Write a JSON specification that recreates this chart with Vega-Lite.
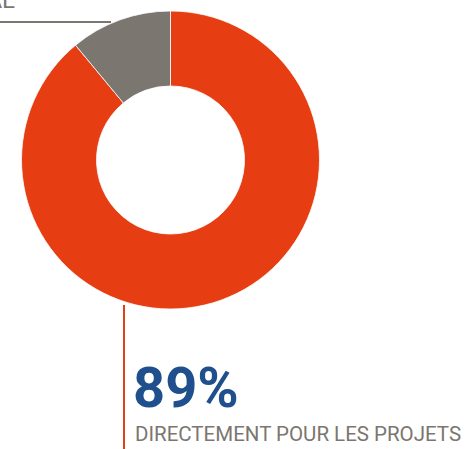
{
  "$schema": "https://vega.github.io/schema/vega-lite/v6.json",
  "width": 470,
  "height": 449,
  "padding": 0,
  "autosize": {"type": "none"},
  "background": "white",
  "config": {"view": {"stroke": null}},
  "layer": [
    {
      "data": {"values": [
        {"cat": "Directement pour les projets", "value": 89, "ord": 1},
        {"cat": "Autre", "value": 11, "ord": 2}
      ]},
      "mark": {"type": "arc", "radius": 149, "radius2": 74, "stroke": "white", "strokeWidth": 0.8},
      "encoding": {
        "theta": {"field": "value", "type": "quantitative", "stack": true},
        "order": {"field": "ord", "type": "quantitative"},
        "color": {"field": "cat", "type": "nominal", "scale": {"domain": ["Directement pour les projets", "Autre"], "range": ["#e63e12", "#7b766f"]}, "legend": null},
        "x": {"datum": 170.5, "type": "quantitative", "scale": {"domain": [0, 470], "nice": false, "zero": false}, "axis": null},
        "y": {"datum": 160, "type": "quantitative", "scale": {"domain": [0, 449], "nice": false, "zero": false, "reverse": true}, "axis": null}
      }
    },
    {
      "data": {"values": [{"k": 1}]},
      "mark": {"type": "rule", "color": "#7b766f", "strokeWidth": 2},
      "encoding": {
        "x": {"datum": 0, "type": "quantitative"},
        "x2": {"datum": 111},
        "y": {"datum": 22, "type": "quantitative"}
      }
    },
    {
      "data": {"values": [{"k": 1}]},
      "mark": {"type": "rule", "color": "#e63e12", "strokeWidth": 2},
      "encoding": {
        "x": {"datum": 124, "type": "quantitative"},
        "y": {"datum": 305, "type": "quantitative"},
        "y2": {"datum": 449}
      }
    },
    {
      "data": {"values": [{"label": "INTERNATIONAL"}]},
      "mark": {"type": "text", "align": "right", "baseline": "alphabetic", "font": "Roboto", "fontSize": 24, "color": "#7b766f"},
      "encoding": {
        "text": {"field": "label"},
        "x": {"datum": 15, "type": "quantitative"},
        "y": {"datum": 8, "type": "quantitative"}
      }
    },
    {
      "data": {"values": [{"label": "89%"}]},
      "mark": {"type": "text", "align": "left", "baseline": "alphabetic", "font": "Roboto", "fontWeight": "bold", "fontSize": 56, "color": "#1f4f8c"},
      "encoding": {
        "text": {"field": "label"},
        "x": {"datum": 133, "type": "quantitative"},
        "y": {"datum": 407, "type": "quantitative"}
      }
    },
    {
      "data": {"values": [{"label": "DIRECTEMENT POUR LES PROJETS"}]},
      "mark": {"type": "text", "align": "left", "baseline": "alphabetic", "font": "Roboto", "fontSize": 20.5, "color": "#7b766f"},
      "encoding": {
        "text": {"field": "label"},
        "x": {"datum": 135, "type": "quantitative"},
        "y": {"datum": 441, "type": "quantitative"}
      }
    }
  ]
}
